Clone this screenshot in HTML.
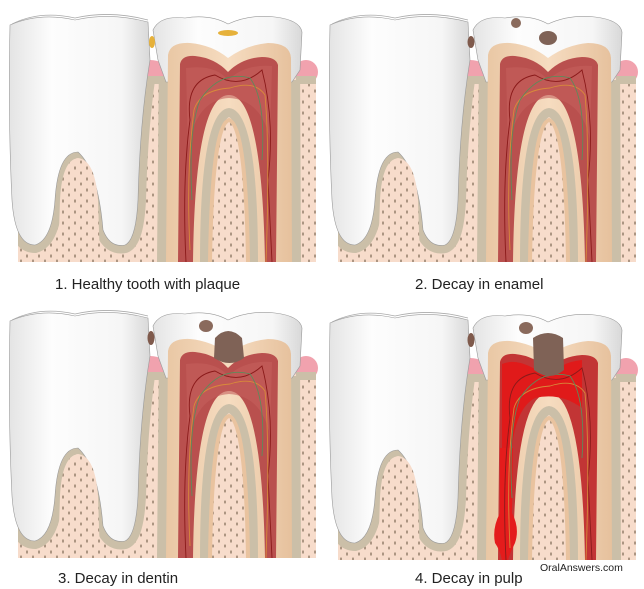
<!DOCTYPE html>
<html><head><meta charset="utf-8"><style>
html,body{margin:0;padding:0;background:#fff;}
svg{display:block;}
text{font-family:"Liberation Sans",sans-serif;fill:#222;}
</style></head><body>
<svg width="644" height="589" viewBox="0 0 644 589" xmlns="http://www.w3.org/2000/svg">
<defs>
<clipPath id="below"><rect x="18" y="80" width="300" height="182"/></clipPath>
<pattern id="dots" width="12" height="11" patternUnits="userSpaceOnUse">
<rect width="12" height="11" fill="#f7dccb"/>
<ellipse cx="3" cy="3" rx="1" ry="1.8" fill="#a8927f"/>
<ellipse cx="9" cy="8" rx="1" ry="1.6" fill="#a8927f"/>
</pattern>
<linearGradient id="wh" x1="0" x2="1">
<stop offset="0" stop-color="#e4e4e4"/><stop offset="0.3" stop-color="#fdfdfd"/><stop offset="0.8" stop-color="#f6f6f6"/><stop offset="1" stop-color="#d8d8d8"/>
</linearGradient>
<linearGradient id="den" x1="0" x2="1">
<stop offset="0" stop-color="#e9c7a4"/><stop offset="0.5" stop-color="#f6dcc0"/><stop offset="1" stop-color="#e6c19d"/>
</linearGradient>
<g id="base">
<rect x="18" y="78" width="298" height="184" fill="url(#dots)"/>
<ellipse cx="150" cy="72" rx="18" ry="12" fill="#f1a2ae"/>
<ellipse cx="306" cy="72" rx="12" ry="12" fill="#f1a2ae"/>
<rect x="130" y="76" width="40" height="8" fill="#cbbfa8"/>
<rect x="296" y="76" width="20" height="8" fill="#cbbfa8"/>
<g clip-path="url(#below)">
<path d="M10,25 Q40,12 75,20 Q110,12 148,22 L150,60 Q140,120 138,200 Q136,240 125,245 Q110,248 103,230 Q98,170 78,152 Q58,152 55,200 Q52,240 35,245 Q15,245 12,200 Q8,120 10,25 Z" fill="#cbbfa8" stroke="#cbbfa8" stroke-width="16"/>
<path d="M168,55 Q170,42 190,43 Q212,45 228,58 Q246,45 268,43 Q290,43 291,58 L292,262 L258,262 Q258,110 229,108 Q200,110 200,262 L166,262 Z" fill="#cbbfa8" stroke="#cbbfa8" stroke-width="18"/>
</g>
<path d="M10,25 Q40,12 75,20 Q110,12 148,22 L150,60 Q140,120 138,200 Q136,240 125,245 Q110,248 103,230 Q98,170 78,152 Q58,152 55,200 Q52,240 35,245 Q15,245 12,200 Q8,120 10,25 Z" fill="url(#wh)" stroke="#9a9a9a" stroke-width="0.6"/>
<path d="M12,24 Q40,10 75,18 Q110,10 148,20" fill="none" stroke="#aaa" stroke-width="0.8"/>
<path d="M60,200 Q62,160 78,158 Q95,160 98,200 L100,262 L58,262 Z" fill="url(#dots)"/>
<path d="M214,262 Q214,125 229,122 Q244,125 244,262 Z" fill="url(#dots)"/>
<rect x="18" y="262" width="300" height="10" fill="#fff"/>
<path d="M153,30 Q160,15 185,18 Q210,14 228,24 Q250,14 275,17 Q300,20 302,32 L300,70 L292,82 L166,82 L158,60 Z" fill="url(#wh)" stroke="#999" stroke-width="0.6"/>
<path d="M168,55 Q170,42 190,43 Q212,45 228,58 Q246,45 268,43 Q290,43 291,58 L292,262 L258,262 Q258,110 229,108 Q200,110 200,262 L166,262 Z" fill="url(#den)"/>
<path d="M210,262 Q212,125 229,120 Q246,125 248,262" fill="none" stroke="#e9c39f" stroke-width="4"/>
</g>
<g id="pulp">
<path d="M180,64 Q182,55 195,56 Q215,58 228,72 Q242,58 262,57 Q276,57 278,65 L276,262 L265,262 Q262,95 229,95 Q195,95 193,262 L178,262 Z" fill="#b9504e"/>
<path d="M186,68 Q215,64 228,80 Q245,64 272,66 L270,140 Q262,100 229,98 Q195,100 188,150 Z" fill="#c45f5c" opacity="0.6"/>
</g>
<g id="nerves" fill="none" stroke-width="0.9">
<path d="M186,262 Q182,180 190,120 Q185,80 215,75 Q240,90 262,70 Q275,120 268,180 L272,262" stroke="#8a1a1a"/>
<path d="M190,250 Q186,170 194,110 Q200,90 230,88 Q255,80 265,95 Q270,150 266,262" stroke="#d88a3a"/>
<path d="M192,200 Q188,130 200,100 Q220,70 250,78 Q266,100 262,160" stroke="#5e8a5a"/>
</g>
</defs>

<g>
<use href="#base"/><use href="#pulp"/><use href="#nerves"/>
<ellipse cx="152" cy="42" rx="3" ry="6" fill="#e6b13a"/>
<ellipse cx="228" cy="33" rx="10" ry="3" fill="#e6b13a"/>
</g>
<g transform="translate(320,0)">
<use href="#base"/><use href="#pulp"/><use href="#nerves"/>
<ellipse cx="151" cy="42" rx="3.5" ry="6" fill="#7f5a4c"/>
<ellipse cx="196" cy="23" rx="5" ry="5" fill="#8a6a5c"/>
<ellipse cx="228" cy="38" rx="9" ry="7" fill="#7f6256"/>
</g>
<g transform="translate(0,296)">
<use href="#base"/><use href="#pulp"/><use href="#nerves"/>
<ellipse cx="151" cy="42" rx="3.5" ry="7" fill="#7f5a4c"/>
<ellipse cx="206" cy="30" rx="7" ry="6" fill="#8a6a5c"/>
<path d="M215,42 Q228,28 242,42 L244,62 Q230,72 214,62 Z" fill="#7f6256"/>
</g>
<g transform="translate(320,298)">
<use href="#base"/>
<path d="M180,64 Q182,55 195,56 Q215,58 228,72 Q242,58 262,57 Q276,57 278,65 L276,262 L265,262 Q262,95 229,95 Q195,95 193,262 L178,262 Z" fill="#c23535"/>
<path d="M182,66 Q200,58 228,80 Q240,64 262,62 L262,110 Q240,94 215,100 Q196,110 192,150 L182,150 Z" fill="#e01a1a"/>
<path d="M180,150 L193,150 L192,215 Q200,230 195,245 Q190,255 188,262 L182,262 Q180,252 175,245 Q172,230 180,215 Z" fill="#e41c1c"/>
<use href="#nerves"/>
<ellipse cx="151" cy="42" rx="3.5" ry="7" fill="#7f5a4c"/>
<ellipse cx="206" cy="30" rx="7" ry="6" fill="#8a6a5c"/>
<path d="M213,40 Q228,30 243,40 L244,72 Q230,84 214,72 Z" fill="#7f6256"/>
</g>

<text x="55" y="289" font-size="15">1. Healthy tooth with plaque</text>
<text x="415" y="289" font-size="15">2. Decay in enamel</text>
<text x="58" y="583" font-size="15">3. Decay in dentin</text>
<text x="415" y="583" font-size="15">4. Decay in pulp</text>
<text x="540" y="571" font-size="10.5">OralAnswers.com</text>
</svg>
</body></html>
